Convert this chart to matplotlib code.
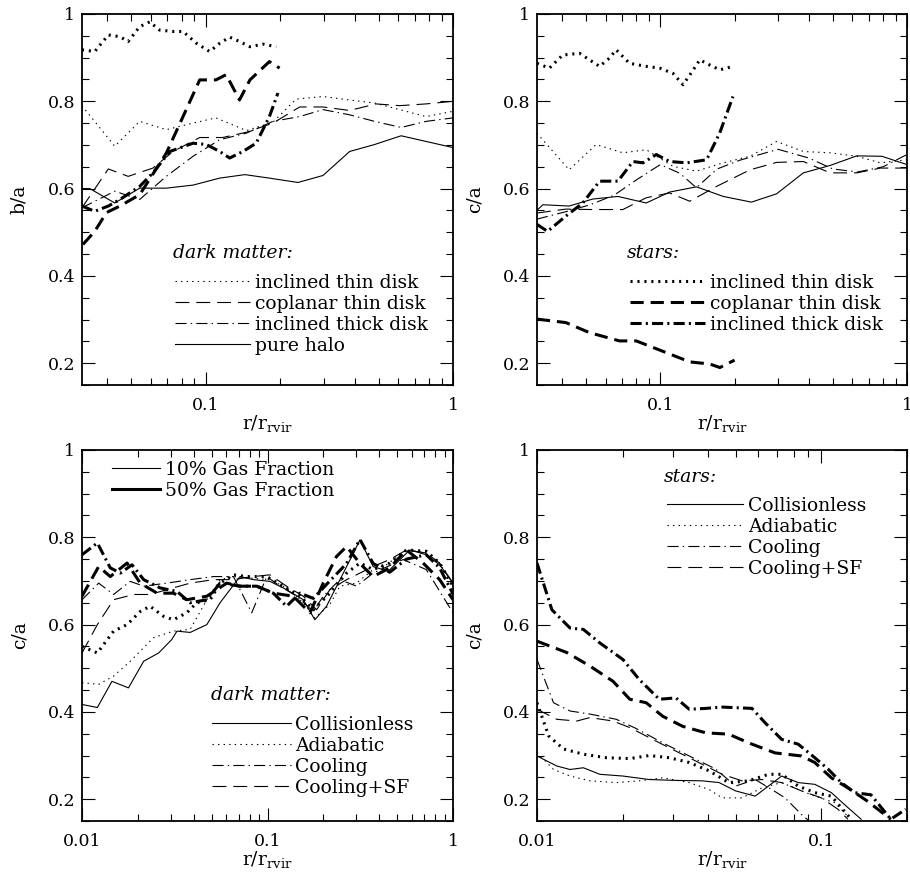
import matplotlib as mpl

mpl.use("Agg")

import matplotlib.pyplot as plt
from matplotlib.lines import Line2D
from matplotlib.ticker import MultipleLocator, FuncFormatter, NullFormatter, LogLocator

plt.rcParams["font.family"] = ["DejaVu Serif"]
plt.rcParams["mathtext.fontset"] = "dejavuserif"
plt.rcParams["lines.scale_dashes"] = False

# ---- panel 1: b/a, disk runs (thin = dark matter, thick = stars) ----
p1_dm_incl_thin_r = [0.0316, 0.0429, 0.0541, 0.0693, 0.0889, 0.110, 0.146, 0.187, 0.232, 0.298, 0.382, 0.482, 0.608, 0.778, 1.0]
p1_dm_incl_thin = [0.790, 0.697, 0.754, 0.735, 0.750, 0.762, 0.733, 0.752, 0.805, 0.811, 0.803, 0.796, 0.781, 0.765, 0.777]
p1_dm_copl_thin_r = [0.0316, 0.0404, 0.0486, 0.0612, 0.0738, 0.0946, 0.117, 0.146, 0.187, 0.240, 0.298, 0.382, 0.489, 0.608, 0.778, 1.0]
p1_dm_copl_thin = [0.556, 0.645, 0.628, 0.647, 0.685, 0.717, 0.717, 0.729, 0.750, 0.787, 0.787, 0.779, 0.794, 0.790, 0.794, 0.800]
p1_dm_incl_thick_r = [0.0316, 0.0429, 0.0541, 0.0693, 0.0889, 0.114, 0.146, 0.187, 0.240, 0.298, 0.382, 0.482, 0.617, 0.778, 1.0]
p1_dm_incl_thick = [0.556, 0.594, 0.575, 0.628, 0.674, 0.712, 0.727, 0.754, 0.765, 0.781, 0.769, 0.754, 0.740, 0.754, 0.762]
p1_dm_halo_r = [0.0316, 0.0340, 0.0429, 0.0541, 0.0693, 0.0889, 0.114, 0.144, 0.181, 0.236, 0.298, 0.382, 0.482, 0.617, 0.778, 1.0]
p1_dm_halo = [0.600, 0.600, 0.567, 0.601, 0.601, 0.608, 0.624, 0.632, 0.624, 0.614, 0.630, 0.685, 0.701, 0.721, 0.708, 0.694]

p1_st_incl_thin_r = [0.0316, 0.0356, 0.0404, 0.0450, 0.0486, 0.0541, 0.0594, 0.0652, 0.0738, 0.0810, 0.0917, 0.1038, 0.114, 0.125, 0.137, 0.151, 0.171, 0.193]
p1_st_incl_thin = [0.918, 0.914, 0.952, 0.948, 0.937, 0.971, 0.982, 0.963, 0.960, 0.960, 0.933, 0.914, 0.933, 0.947, 0.937, 0.925, 0.931, 0.925]
p1_st_copl_thin_r = [0.0319, 0.0356, 0.0397, 0.0450, 0.0541, 0.0693, 0.0810, 0.0946, 0.110, 0.121, 0.137, 0.151, 0.181, 0.199]
p1_st_copl_thin = [0.472, 0.502, 0.545, 0.560, 0.586, 0.681, 0.765, 0.849, 0.849, 0.861, 0.803, 0.849, 0.891, 0.876]
p1_st_incl_thick_r = [0.0316, 0.0356, 0.0404, 0.0450, 0.0541, 0.0612, 0.0716, 0.0785, 0.0889, 0.1006, 0.114, 0.125, 0.1415, 0.160, 0.181, 0.196]
p1_st_incl_thick = [0.560, 0.548, 0.560, 0.575, 0.605, 0.636, 0.685, 0.693, 0.704, 0.701, 0.685, 0.670, 0.685, 0.704, 0.765, 0.819]

# ---- panel 2: c/a, disk runs ----
p2_dm_incl_thin_r = [0.0316, 0.0427, 0.0549, 0.0705, 0.0877, 0.1125, 0.140, 0.180, 0.231, 0.296, 0.380, 0.488, 0.626, 0.780, 1.0]
p2_dm_incl_thin = [0.727, 0.643, 0.701, 0.682, 0.689, 0.651, 0.640, 0.659, 0.674, 0.708, 0.685, 0.682, 0.674, 0.659, 0.666]
p2_dm_copl_thin_r = [0.0316, 0.0414, 0.0532, 0.0705, 0.0877, 0.109, 0.1316, 0.169, 0.231, 0.296, 0.380, 0.488, 0.626, 0.780, 1.0]
p2_dm_copl_thin = [0.544, 0.553, 0.552, 0.552, 0.579, 0.590, 0.571, 0.605, 0.643, 0.660, 0.662, 0.636, 0.636, 0.647, 0.647]
p2_dm_incl_thick_r = [0.0316, 0.042, 0.052, 0.065, 0.080, 0.100, 0.120, 0.140, 0.170, 0.210, 0.300, 0.400, 0.500, 0.630, 0.800, 1.0]
p2_dm_incl_thick = [0.530, 0.548, 0.563, 0.585, 0.620, 0.655, 0.635, 0.602, 0.645, 0.665, 0.690, 0.670, 0.645, 0.638, 0.650, 0.678]
p2_dm_halo_r = [0.0316, 0.0334, 0.0427, 0.0532, 0.0673, 0.0877, 0.109, 0.140, 0.180, 0.234, 0.296, 0.380, 0.488, 0.626, 0.791, 1.0]
p2_dm_halo = [0.550, 0.563, 0.560, 0.576, 0.582, 0.567, 0.592, 0.604, 0.582, 0.569, 0.588, 0.636, 0.653, 0.675, 0.674, 0.655]

p2_st_incl_thin_r = [0.0316, 0.0355, 0.0402, 0.047, 0.0516, 0.0567, 0.0622, 0.0662, 0.075, 0.0877, 0.0994, 0.1125, 0.1236, 0.136, 0.1445, 0.1588, 0.1743, 0.197]
p2_st_incl_thin = [0.887, 0.876, 0.906, 0.910, 0.895, 0.880, 0.899, 0.918, 0.887, 0.880, 0.876, 0.864, 0.838, 0.872, 0.895, 0.883, 0.872, 0.880]
p2_st_copl_thin_r = [0.0316, 0.0414, 0.0516, 0.0683, 0.0799, 0.1058, 0.1316, 0.1588, 0.1743, 0.200]
p2_st_copl_thin = [0.301, 0.293, 0.270, 0.251, 0.251, 0.224, 0.203, 0.198, 0.190, 0.207]
p2_st_incl_thick_r = [0.0316, 0.0349, 0.0414, 0.0485, 0.0567, 0.0673, 0.0774, 0.085, 0.0963, 0.109, 0.128, 0.154, 0.174, 0.197]
p2_st_incl_thick = [0.518, 0.502, 0.537, 0.567, 0.617, 0.617, 0.662, 0.659, 0.678, 0.662, 0.659, 0.666, 0.727, 0.811]

# ---- panel 3: c/a dark matter, gas runs (thin = 10%, thick = 50%) ----
p3_coll_r = [0.0100, 0.0121, 0.0145, 0.0178, 0.0215, 0.0259, 0.0305, 0.0325, 0.0383, 0.0471, 0.0555, 0.0628, 0.0711, 0.0839, 0.1031, 0.1267, 0.156, 0.180, 0.208, 0.267, 0.315, 0.371, 0.447, 0.527, 0.585, 0.718, 0.847, 1.0]
p3_coll = [0.417, 0.410, 0.470, 0.455, 0.516, 0.535, 0.566, 0.585, 0.582, 0.600, 0.650, 0.680, 0.710, 0.703, 0.699, 0.680, 0.657, 0.611, 0.642, 0.733, 0.794, 0.733, 0.722, 0.752, 0.771, 0.760, 0.737, 0.695]
p3_adia10_r = [0.0100, 0.0123, 0.0148, 0.0182, 0.0243, 0.0311, 0.0383, 0.0471, 0.0555, 0.0655, 0.0773, 0.1031, 0.1267, 0.156, 0.180, 0.2168, 0.2455, 0.302, 0.371, 0.4375, 0.561, 0.718, 0.847, 1.0]
p3_adia10 = [0.467, 0.463, 0.482, 0.516, 0.570, 0.585, 0.589, 0.657, 0.703, 0.710, 0.707, 0.703, 0.684, 0.650, 0.615, 0.646, 0.688, 0.695, 0.726, 0.737, 0.771, 0.764, 0.741, 0.688]
p3_cool10_r = [0.0100, 0.0123, 0.0148, 0.0182, 0.0215, 0.0287, 0.0383, 0.0512, 0.0655, 0.0711, 0.0822, 0.0991, 0.1168, 0.1435, 0.1766, 0.1997, 0.2455, 0.302, 0.371, 0.538, 0.718, 1.0]
p3_cool10 = [0.657, 0.695, 0.669, 0.699, 0.688, 0.695, 0.703, 0.710, 0.710, 0.680, 0.627, 0.710, 0.688, 0.665, 0.630, 0.665, 0.703, 0.688, 0.718, 0.749, 0.726, 0.627]
p3_sf10_r = [0.0100, 0.0121, 0.0148, 0.0190, 0.0233, 0.0287, 0.0383, 0.0512, 0.0655, 0.0839, 0.1031, 0.1267, 0.156, 0.1841, 0.2168, 0.267, 0.315, 0.371, 0.456, 0.561, 0.718, 0.847, 1.0]
p3_sf10 = [0.535, 0.600, 0.657, 0.669, 0.669, 0.680, 0.695, 0.703, 0.703, 0.710, 0.714, 0.688, 0.665, 0.634, 0.680, 0.703, 0.718, 0.733, 0.749, 0.771, 0.764, 0.741, 0.695]
p3_adia50_r = [0.0100, 0.0121, 0.0148, 0.0175, 0.0206, 0.0233, 0.0275, 0.0311, 0.0367, 0.0416, 0.0491, 0.0555, 0.0655, 0.0773, 0.0991, 0.1216, 0.1496, 0.1766, 0.2168, 0.267, 0.315, 0.371, 0.456, 0.561, 0.718, 0.847, 1.0]
p3_adia50 = [0.550, 0.535, 0.585, 0.600, 0.630, 0.642, 0.619, 0.611, 0.627, 0.650, 0.657, 0.695, 0.714, 0.710, 0.710, 0.688, 0.665, 0.634, 0.672, 0.718, 0.741, 0.726, 0.741, 0.771, 0.768, 0.741, 0.688]
p3_cool50_r = [0.0100, 0.0121, 0.0142, 0.0161, 0.0186, 0.0215, 0.0264, 0.0325, 0.0383, 0.0471, 0.0555, 0.0711, 0.0875, 0.1075, 0.1267, 0.1496, 0.1766, 0.2168, 0.267, 0.315, 0.371, 0.456, 0.561, 0.718, 0.847, 1.0]
p3_cool50 = [0.760, 0.787, 0.730, 0.718, 0.737, 0.703, 0.684, 0.676, 0.650, 0.657, 0.695, 0.688, 0.688, 0.672, 0.642, 0.672, 0.660, 0.700, 0.740, 0.795, 0.740, 0.720, 0.750, 0.760, 0.730, 0.670]
p3_sf50_r = [0.0100, 0.0123, 0.0142, 0.0175, 0.0206, 0.0254, 0.0311, 0.0367, 0.0471, 0.0603, 0.0711, 0.0875, 0.1075, 0.1377, 0.1694, 0.1997, 0.2355, 0.267, 0.315, 0.371, 0.456, 0.561, 0.690, 0.847, 1.0]
p3_sf50 = [0.665, 0.733, 0.710, 0.741, 0.695, 0.672, 0.672, 0.657, 0.665, 0.695, 0.688, 0.688, 0.672, 0.665, 0.627, 0.695, 0.756, 0.779, 0.740, 0.710, 0.730, 0.771, 0.741, 0.703, 0.657]

# ---- panel 4: c/a stars, gas runs ----
p4_coll_r = [0.0100, 0.01174, 0.01307, 0.01455, 0.01663, 0.02005, 0.0248, 0.0308, 0.0381, 0.0437, 0.0499, 0.0585, 0.0725, 0.0829, 0.0948, 0.1084, 0.1204, 0.138]
p4_coll = [0.299, 0.276, 0.268, 0.272, 0.257, 0.253, 0.245, 0.243, 0.242, 0.238, 0.219, 0.207, 0.253, 0.238, 0.234, 0.215, 0.188, 0.154]
p4_adia10_r = [0.0100, 0.01143, 0.01307, 0.01535, 0.01901, 0.0229, 0.02767, 0.0343, 0.0403, 0.0448, 0.0526, 0.0618, 0.0725, 0.0829, 0.0948, 0.1114, 0.1239]
p4_adia10 = [0.307, 0.268, 0.253, 0.242, 0.238, 0.242, 0.249, 0.238, 0.222, 0.203, 0.203, 0.226, 0.238, 0.222, 0.207, 0.192, 0.161]
p4_cool10_r = [0.0100, 0.01143, 0.01307, 0.01535, 0.01901, 0.0223, 0.02767, 0.0343, 0.0425, 0.0499, 0.0585, 0.067, 0.0745, 0.0851, 0.0898]
p4_cool10 = [0.520, 0.421, 0.402, 0.395, 0.383, 0.362, 0.329, 0.299, 0.269, 0.230, 0.245, 0.222, 0.203, 0.165, 0.152]
p4_sf10_r = [0.0100, 0.01174, 0.0138, 0.01535, 0.01851, 0.0212, 0.0255, 0.0308, 0.0381, 0.0448, 0.0526, 0.0618, 0.0725, 0.0851, 0.1000, 0.1143, 0.1239]
p4_sf10 = [0.406, 0.383, 0.379, 0.387, 0.379, 0.364, 0.337, 0.310, 0.280, 0.257, 0.242, 0.245, 0.238, 0.219, 0.203, 0.177, 0.154]
p4_adia50_r = [0.0100, 0.01099, 0.01239, 0.01455, 0.01754, 0.0212, 0.0248, 0.0292, 0.0343, 0.0403, 0.0472, 0.0555, 0.0652, 0.0725, 0.0829, 0.0948, 0.1084, 0.1273]
p4_adia50 = [0.421, 0.345, 0.315, 0.303, 0.295, 0.293, 0.300, 0.295, 0.284, 0.265, 0.238, 0.242, 0.257, 0.257, 0.230, 0.215, 0.207, 0.154]
p4_cool50_r = [0.0100, 0.01128, 0.01307, 0.01455, 0.01663, 0.02005, 0.0229, 0.0269, 0.0308, 0.0343, 0.0392, 0.0448, 0.057, 0.0634, 0.0725, 0.0829, 0.0948, 0.1055, 0.1175, 0.1307, 0.1494, 0.1754, 0.198]
p4_cool50 = [0.741, 0.634, 0.592, 0.589, 0.558, 0.520, 0.474, 0.429, 0.432, 0.406, 0.408, 0.411, 0.408, 0.375, 0.337, 0.326, 0.295, 0.269, 0.238, 0.215, 0.210, 0.154, 0.177]
p4_sf50_r = [0.0100, 0.01273, 0.01535, 0.01851, 0.0212, 0.0242, 0.02767, 0.0325, 0.0392, 0.0472, 0.0555, 0.0687, 0.0851, 0.0948, 0.1084, 0.1239, 0.1455, 0.1754]
p4_sf50 = [0.562, 0.536, 0.505, 0.470, 0.429, 0.421, 0.390, 0.367, 0.352, 0.349, 0.329, 0.306, 0.299, 0.284, 0.249, 0.226, 0.195, 0.154]

disk_labels = ["inclined thin disk", "coplanar thin disk", "inclined thick disk", "pure halo"]
gas_labels = ["Collisionless", "Adiabatic", "Cooling", "Cooling+SF"]
frac_labels = ["10% Gas Fraction", "50% Gas Fraction"]

THIN = 0.8
THICK = 2.2
FS = 13.5
TICK_FS = 12.5
STYLE = {
    "solid": "-",
    "dot": (0, (1, 3)),
    "dash": (0, (10, 5)),
    "dashdot": (0, (8, 3, 1, 3)),
}
THICK_STYLE = {
    "solid": "-",
    "dot": (0, (1.5, 3.5)),
    "dash": (0, (9.5, 5)),
    "dashdot": (0, (8, 3, 1.5, 3)),
}


def line(ax, r, v, kind, thick=False):
    ls = THICK_STYLE[kind] if thick else STYLE[kind]
    ax.plot(r, v, color="black", lw=THICK if thick else THIN, ls=ls)


def handle(kind, thick=False):
    ls = THICK_STYLE[kind] if thick else STYLE[kind]
    return Line2D([], [], color="black", lw=THICK if thick else THIN, ls=ls)


def setup(ax, xlim, ylabel):
    ax.set_xscale("log")
    ax.set_xlim(*xlim)
    ax.set_ylim(0.15, 1.0)
    ax.yaxis.set_major_locator(MultipleLocator(0.2))
    ax.yaxis.set_minor_locator(MultipleLocator(0.05))
    ax.yaxis.set_major_formatter(FuncFormatter(lambda v, p: "%g" % round(v, 2)))
    ax.xaxis.set_major_locator(LogLocator(base=10))
    ax.xaxis.set_minor_locator(LogLocator(base=10, subs=range(2, 10)))
    ax.xaxis.set_major_formatter(FuncFormatter(lambda v, p: "%g" % v))
    ax.xaxis.set_minor_formatter(NullFormatter())
    ax.tick_params(which="both", direction="in", top=True, right=True, width=0.8)
    ax.tick_params(which="major", length=9.5, labelsize=TICK_FS)
    ax.tick_params(which="minor", length=5)
    ax.tick_params(axis="x", pad=9)
    ax.tick_params(axis="y", pad=5)
    for s in ax.spines.values():
        s.set_linewidth(1.3)
    ax.set_ylabel(ylabel, fontsize=FS)
    ax.yaxis.set_label_coords(-0.145, 0.5)
    ax.set_xlabel(r"r/r$_{\rm rvir}$", fontsize=FS)
    ax.xaxis.set_label_coords(0.5, -0.075)
    ax.xaxis.label.set_va("top")


def key(ax, handles, labels, x, y, hlen):
    ax.legend(handles, labels, loc="upper left", bbox_to_anchor=(x, y),
              frameon=False, fontsize=FS, handlelength=hlen, handletextpad=0.25,
              labelspacing=0.16, borderpad=0, borderaxespad=0)


fig = plt.figure(figsize=(9.1, 8.82), dpi=100)
ax1 = fig.add_axes([82 / 910, 1 - 385 / 882, 371 / 910, 371 / 882])
ax2 = fig.add_axes([537 / 910, 1 - 385 / 882, 370 / 910, 371 / 882])
ax3 = fig.add_axes([82 / 910, 1 - 821 / 882, 371 / 910, 371 / 882])
ax4 = fig.add_axes([537 / 910, 1 - 821 / 882, 370 / 910, 371 / 882])

# panel 1
line(ax1, p1_dm_incl_thin_r, p1_dm_incl_thin, "dot")
line(ax1, p1_dm_copl_thin_r, p1_dm_copl_thin, "dash")
line(ax1, p1_dm_incl_thick_r, p1_dm_incl_thick, "dashdot")
line(ax1, p1_dm_halo_r, p1_dm_halo, "solid")
line(ax1, p1_st_incl_thin_r, p1_st_incl_thin, "dot", True)
line(ax1, p1_st_copl_thin_r, p1_st_copl_thin, "dash", True)
line(ax1, p1_st_incl_thick_r, p1_st_incl_thick, "dashdot", True)
setup(ax1, (10 ** -1.5, 1.0), "b/a")
ax1.text(0.246, 0.356, "dark matter:", style="italic", fontsize=FS,
         transform=ax1.transAxes, va="center")
key(ax1, [handle("dot"), handle("dash"), handle("dashdot"), handle("solid")],
    disk_labels, 0.251, 0.300, 4.0)

# panel 2
line(ax2, p2_dm_incl_thin_r, p2_dm_incl_thin, "dot")
line(ax2, p2_dm_copl_thin_r, p2_dm_copl_thin, "dash")
line(ax2, p2_dm_incl_thick_r, p2_dm_incl_thick, "dashdot")
line(ax2, p2_dm_halo_r, p2_dm_halo, "solid")
line(ax2, p2_st_incl_thin_r, p2_st_incl_thin, "dot", True)
line(ax2, p2_st_copl_thin_r, p2_st_copl_thin, "dash", True)
line(ax2, p2_st_incl_thick_r, p2_st_incl_thick, "dashdot", True)
setup(ax2, (10 ** -1.5, 1.0), "c/a")
ax2.text(0.243, 0.356, "stars:", style="italic", fontsize=FS,
         transform=ax2.transAxes, va="center")
key(ax2, [handle("dot", True), handle("dash", True), handle("dashdot", True)],
    disk_labels[:3], 0.251, 0.300, 4.0)

# panel 3
line(ax3, p3_coll_r, p3_coll, "solid")
line(ax3, p3_adia10_r, p3_adia10, "dot")
line(ax3, p3_cool10_r, p3_cool10, "dashdot")
line(ax3, p3_sf10_r, p3_sf10, "dash")
line(ax3, p3_adia50_r, p3_adia50, "dot", True)
line(ax3, p3_cool50_r, p3_cool50, "dashdot", True)
line(ax3, p3_sf50_r, p3_sf50, "dash", True)
setup(ax3, (0.01, 1.0), "c/a")
ax3.text(0.347, 0.340, "dark matter:", style="italic", fontsize=FS,
         transform=ax3.transAxes, va="center")
key(ax3, [handle("solid"), handle("dot"), handle("dashdot"), handle("dash")],
    gas_labels, 0.350, 0.284, 4.2)
frac = ax3.get_legend()
ax3.add_artist(frac)
ax3.legend([handle("solid"), handle("solid", True)], frac_labels,
           loc="upper left", bbox_to_anchor=(0.080, 0.971), frameon=False,
           fontsize=FS, handlelength=2.6, handletextpad=0.25, labelspacing=0.16,
           borderpad=0, borderaxespad=0)

# panel 4
line(ax4, p4_coll_r, p4_coll, "solid")
line(ax4, p4_adia10_r, p4_adia10, "dot")
line(ax4, p4_cool10_r, p4_cool10, "dashdot")
line(ax4, p4_sf10_r, p4_sf10, "dash")
line(ax4, p4_adia50_r, p4_adia50, "dot", True)
line(ax4, p4_cool50_r, p4_cool50, "dashdot", True)
line(ax4, p4_sf50_r, p4_sf50, "dash", True)
setup(ax4, (0.01, 0.2), "c/a")
ax4.text(0.343, 0.927, "stars:", style="italic", fontsize=FS,
         transform=ax4.transAxes, va="center")
key(ax4, [handle("solid"), handle("dot"), handle("dashdot"), handle("dash")],
    gas_labels, 0.350, 0.874, 4.1)

fig.savefig("out.png", dpi=100)
